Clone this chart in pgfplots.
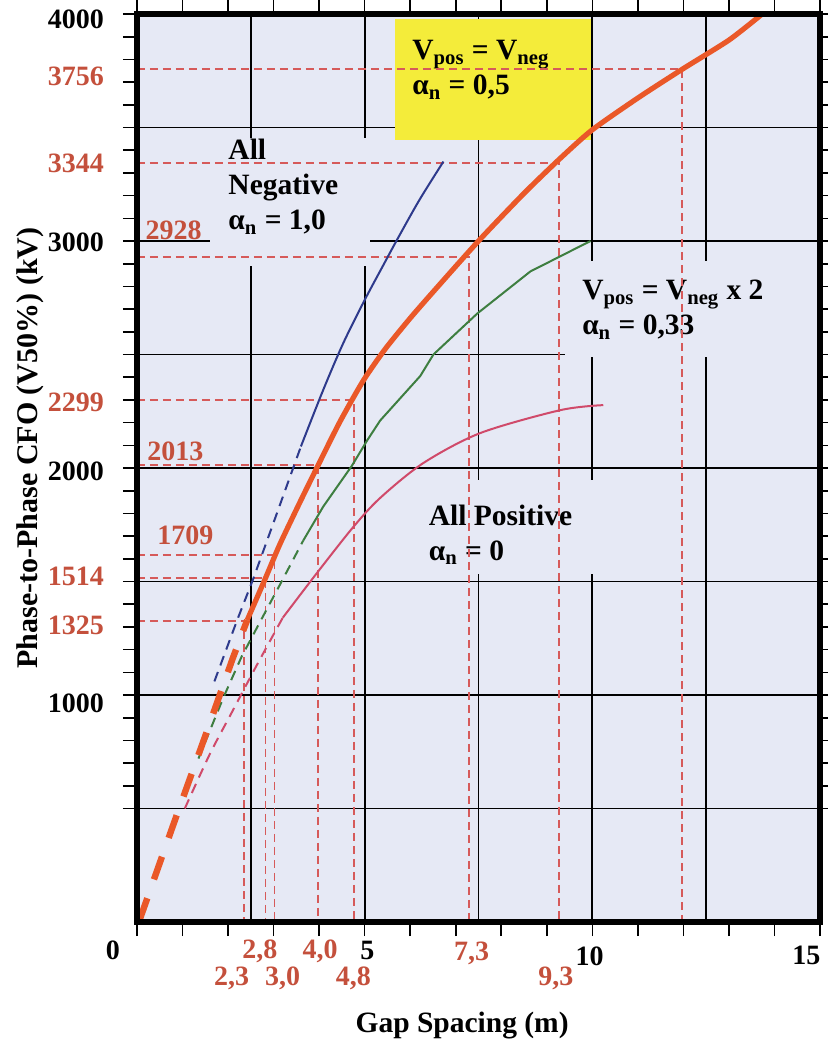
\documentclass[border=0pt]{standalone}
\usepackage{fontspec}
\setmainfont{Liberation Serif}
\usepackage{pgfplots}
\pgfplotsset{compat=1.18}

\definecolor{bglav}{RGB}{230,233,245}
\definecolor{corange}{RGB}{234,88,40}
\definecolor{cblue}{RGB}{46,58,140}
\definecolor{cgreen}{RGB}{62,126,64}
\definecolor{cpink}{RGB}{208,74,106}
\definecolor{refred}{RGB}{214,90,90}
\definecolor{labred}{RGB}{196,80,60}
\definecolor{boxyellow}{RGB}{244,236,58}

\newcommand\annot{\fontsize{14.75}{17.5}\selectfont\bfseries}
\newcommand\tickf{\fontsize{14}{16}\selectfont\bfseries}

\tikzset{
  ylab/.style={anchor=east, inner sep=0pt, font=\tickf},
  xlab/.style={anchor=center, inner sep=0pt, font=\tickf},
  refdash/.style={refred, line width=0.9pt, dash pattern=on 4pt off 2.5pt},
  grd/.style={black, line width=0.85pt},
}

\begin{document}
\begin{tikzpicture}
\useasboundingbox (0,0) rectangle (413.5pt,523pt);
\begin{axis}[
  at={(68.5pt,62pt)}, anchor=south west,
  scale only axis, width=341.5pt, height=454pt,
  xmin=0, xmax=15, ymin=0, ymax=4000,
  axis background/.style={fill=bglav},
  axis line style={draw=none},
  xtick={0,1,...,15}, xticklabel={\relax},
  ytick={500,600,...,4000}, yticklabel={\relax},
  tick align=outside, major tick length=7pt,
  tick style={black, line width=0.8pt},
  clip=false,
]
% grid (every 2.5 m and every 500 kV)
\draw[grd] (2.5,0) -- (2.5,4000);
\draw[grd] (5,0) -- (5,4000);
\draw[grd] (7.5,0) -- (7.5,4000);
\draw[grd] (10,0) -- (10,4000);
\draw[grd] (12.5,0) -- (12.5,4000);
\draw[grd] (0,500) -- (15,500);
\draw[grd] (0,1000) -- (15,1000);
\draw[grd] (0,1500) -- (15,1500);
\draw[grd] (0,2000) -- (15,2000);
\draw[grd] (0,2500) -- (15,2500);
\draw[grd] (0,3000) -- (15,3000);
\draw[grd] (0,3500) -- (15,3500);

% boxes behind the annotations
\fill[bglav] (1.6,2890) rectangle (5.12,3455);
\fill[bglav] (9.4,2490) rectangle (15,2910);
\fill[bglav] (6.1,1535) rectangle (11.3,1948);
\fill[boxyellow] (5.67,3446) rectangle (9.96,3978);

\node[anchor=north west, align=left, inner sep=0pt, font=\annot] at (2.0,3450)
  {All\\Negative\\α\textsubscript{n} = 1,0};
\node[anchor=north west, align=left, inner sep=0pt, font=\annot] at (6.04,3885)
  {V\textsubscript{pos} = V\textsubscript{neg}\\α\textsubscript{n} = 0,5};
\node[anchor=north west, align=left, inner sep=0pt, font=\annot] at (9.77,2829)
  {V\textsubscript{pos} = V\textsubscript{neg} x 2\\α\textsubscript{n} = 0,33};
\node[anchor=north west, align=left, inner sep=0pt, font=\annot] at (6.4,1839)
  {All Positive\\α\textsubscript{n} = 0};

% reference lines
\addplot[refdash] coordinates {(0,1325)(2.35,1325)(2.35,0)};
\addplot[refdash] coordinates {(0,1514)(2.82,1514)(2.82,0)};
\addplot[refdash] coordinates {(0,1615)(3.02,1615)(3.02,0)};
\addplot[refdash] coordinates {(0,2013)(3.98,2013)(3.98,0)};
\addplot[refdash] coordinates {(0,2299)(4.77,2299)(4.77,0)};
\addplot[refdash] coordinates {(0,2928)(7.3,2928)(7.3,0)};
\addplot[refdash] coordinates {(0,3344)(9.27,3344)(9.27,0)};
\addplot[refdash] coordinates {(0,3756)(11.97,3756)(11.97,0)};

% all positive
\addplot[cpink, line width=1pt, dash pattern=on 5pt off 3.5pt, smooth]
  coordinates {(1.05,500)(1.6,740)(2.1,930)(2.6,1120)(3.2,1340)};
\addplot[cpink, line width=1pt, smooth]
  coordinates {(3.2,1340)(3.95,1537)(4.75,1740)(5.34,1868)(6.29,2022)
               (7.54,2154)(9.3,2255)(10.24,2277)};
% Vpos = 2 Vneg
\addplot[cgreen, line width=1pt, dash pattern=on 5pt off 3.5pt]
  coordinates {(1.35,720)(1.9,990)(2.3,1170)(2.75,1340)(3.15,1490)(3.65,1680)};
\addplot[cgreen, line width=1pt]
  coordinates {(3.65,1680)(4.09,1830)(4.72,2010)(5.05,2120)(5.34,2209)
               (6.22,2405)(6.51,2500)(7.47,2680)(8.64,2866)(9.96,3000)};
% all negative
\addplot[cblue, line width=1pt, dash pattern=on 5pt off 3.5pt]
  coordinates {(1.7,1060)(2.2,1330)(2.55,1510)(3.0,1760)(3.43,2000)(3.6,2095)};
\addplot[cblue, line width=1pt, smooth]
  coordinates {(3.6,2095)(4.09,2344)(4.53,2550)(5.0,2740)(5.4,2890)
               (5.71,3005)(6.2,3180)(6.73,3350)};
% Vpos = Vneg
\addplot[corange, line width=3.2pt, dash pattern=on 12pt off 10pt]
  coordinates {(0.05,5)(0.8,430)(1.5,820)(2.1,1160)(2.42,1330)};
\addplot[corange, line width=2.6pt, smooth, tension=0.4]
  coordinates {(2.42,1330)(2.82,1514)(3.14,1665)(3.58,1850)(3.98,2013)
               (4.46,2205)(4.97,2385)(5.45,2524)(6.0,2660)(6.5,2775)
               (7.5,3000)(8.5,3210)(9.3,3365)(10,3490)(11,3630)
               (11.97,3756)(13,3885)(13.7,3995)};

% frame
\draw[black, line width=3.3pt] (rel axis cs:0,0) rectangle (rel axis cs:1,1);

% y tick labels
\node[ylab] at (-0.72,3978) {4000};
\node[ylab] at (-0.72,2995) {3000};
\node[ylab] at (-0.72,1987) {2000};
\node[ylab] at (-0.72,965) {1000};
\node[ylab, labred] at (-0.72,3725) {3756};
\node[ylab, labred] at (-0.72,3344) {3344};
\node[ylab, labred] at (-0.72,2289) {2299};
\node[ylab, labred] at (-0.72,1522) {1514};
\node[ylab, labred] at (-0.72,1307) {1325};
\node[anchor=west, inner sep=0pt, font=\tickf, labred] at (0.18,3048) {2928};
\node[anchor=west, inner sep=0pt, font=\tickf, labred] at (0.22,2075) {2013};
\node[anchor=west, inner sep=0pt, font=\tickf, labred] at (0.44,1705) {1709};

% x tick labels
\node[xlab] at (-0.53,-125) {0};
\node[xlab] at (5.06,-125) {5};
\node[xlab] at (9.94,-150) {10};
\node[xlab] at (14.7,-145) {15};
\node[xlab, labred] at (2.7,-130) {2,8};
\node[xlab, labred] at (4.02,-130) {4,0};
\node[xlab, labred] at (7.35,-137) {7,3};
\node[xlab, labred] at (2.08,-250) {2,3};
\node[xlab, labred] at (3.2,-250) {3,0};
\node[xlab, labred] at (4.75,-250) {4,8};
\node[xlab, labred] at (9.2,-250) {9,3};

% axis titles
\node[font=\fontsize{14.75}{17}\selectfont\bfseries] at (7.14,-454) {Gap Spacing (m)};
\node[rotate=90, font=\fontsize{15}{17}\selectfont\bfseries] at (-2.35,2088)
  {Phase-to-Phase CFO (V50\%) (kV)};
\end{axis}
\end{tikzpicture}
\end{document}
